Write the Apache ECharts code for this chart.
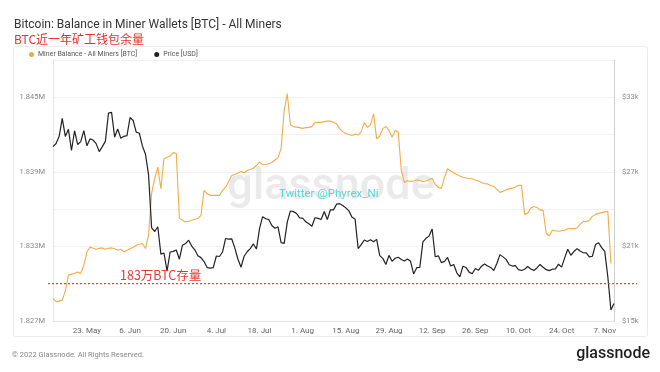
<!DOCTYPE html>
<html><head><meta charset="utf-8">
<script src="https://cdn.jsdelivr.net/npm/echarts@6/dist/echarts.min.js"></script>
<style>html,body{margin:0;padding:0;background:#fff}#c{width:660px;height:372px}</style>
</head><body><div id="c"></div>
<script>
// Daily categories 12 May 2022 .. 10 Nov 2022
const startDate = '2022-05-12';
const dayCount = 183;
const monthNames = ['Jan','Feb','Mar','Apr','May','Jun','Jul','Aug','Sep','Oct','Nov','Dec'];
const categories = [];
(function(){ const d0 = new Date(startDate + 'T00:00:00Z'); for (let i = 0; i < dayCount; i++) { const d = new Date(d0.getTime() + i * 86400000); categories.push(d.getUTCDate() + '. ' + monthNames[d.getUTCMonth()]); } })();

const xTickLabels = ['23. May','6. Jun','20. Jun','4. Jul','18. Jul','1. Aug','15. Aug','29. Aug','12. Sep','26. Sep','10. Oct','24. Oct','7. Nov'];

// Miner Balance - All Miners [BTC]
const minerBalance = [1828820,1828550,1828600,1828680,1829410,1830690,1830770,1830850,1830950,1830830,
 1831490,1832530,1832960,1832850,1832770,1832850,1832880,1832770,1832850,1832880,
 1832810,1832690,1832770,1832560,1832690,1832810,1832930,1833100,1833180,1833230,
 1832830,1833900,1837270,1838470,1839380,1837640,1840050,1840180,1840270,1840550,
 1840470,1835260,1835100,1834960,1835020,1835100,1835180,1835240,1835500,1837510,
 1837240,1837110,1837110,1837110,1837110,1837510,1837770,1838230,1838710,1838790,
 1838910,1839030,1838930,1839110,1839190,1839290,1839510,1839780,1839570,1839590,
 1839650,1839750,1839950,1840150,1840870,1843920,1845290,1842800,1842640,1842600,
 1842560,1842500,1842560,1842580,1842640,1842960,1842980,1842980,1843040,1843080,
 1843080,1843000,1842860,1842480,1842240,1842080,1842000,1841920,1842040,1841960,
 1842240,1842960,1842580,1842780,1843680,1841650,1841880,1842480,1842660,1842320,
 1841780,1842320,1842200,1839110,1838150,1838310,1838230,1838270,1838350,1838310,
 1838230,1838270,1838360,1838490,1837990,1837750,1837670,1838550,1839250,1839070,
 1838930,1838790,1838670,1838570,1838510,1838470,1838440,1838350,1838270,1838150,
 1838040,1838030,1837910,1837830,1837590,1837350,1837430,1837550,1837630,1837690,
 1837790,1837910,1837910,1835580,1835660,1836090,1836220,1836140,1835940,1835900,
 1834060,1833840,1834300,1834260,1834220,1834260,1834300,1834420,1834430,1834430,
 1834480,1834780,1835020,1834980,1835100,1835420,1835580,1835660,1835720,1835780,
 1835820,1831630,null];

// Price [USD]
const priceMay = [29030,29280,29860,31300,29850,30420,28720,30310,29200,29430,30320,29100,29650,29560,29270,28630,29030,29470,31730,31790];
const priceJun = [29800,30450,29700,29860,29910,31370,31130,30200,30110,29090,28420,26760,22490,22200,22580,20380,20470,19020,20550,20600,20710,19970,21100,21230,21500,21030,20730,20250,20100,19780];
const priceJul = [19300,19250,19300,20230,20190,20550,21640,21590,21600,20860,19970,19330,20210,20570,20830,21200,20790,22430,23390,23230,23160,22680,22460,22580,21310,21250,22950,23850,23800,23650,23300];
const priceAug = [23270,22980,22820,22620,23310,23260,23170,23810,23160,23950,23940,24400,24440,24300,24100,23860,23340,23200,20830,21140,21520,21400,21530,21370,21570,20260,20040,19550,20280,19800,20050];
const priceSep = [20130,19950,19830,19990,19800,18790,19290,19320,21360,21650,21830,22400,20170,20240,19700,19800,20110,19420,19540,18880,18550,19410,19300,18930,18800,19220,19080,19410,19590,19430];
const priceOct = [19310,19060,19630,20340,20160,19960,19530,19420,19450,19130,19060,19160,19380,19180,19070,19270,19550,19330,19130,19050,19170,19200,19570,19330,20080,20770,20290,20590,20820,20630,20490];
const priceNov = [20480,20160,20210,21150,21300,20900,20600,18540,15880,16400];
const price = [].concat(priceMay, priceJun, priceJul, priceAug, priceSep, priceOct, priceNov);

const refLevel = 1830000; // 183万 BTC

const chart = echarts.init(document.getElementById('c'), null, {renderer: 'canvas'});
const baseFont = 'Roboto, "Noto Sans", sans-serif';
chart.setOption({
  animation: false,
  backgroundColor: '#ffffff',
  textStyle: {fontFamily: baseFont},
  title: {
    text: 'Bitcoin: Balance in Miner Wallets [BTC] - All Miners',
    subtext: 'BTC近一年矿工钱包余量',
    left: 9, top: 14, itemGap: 2,
    textStyle: {fontSize: 12, fontWeight: 'normal', color: '#333', fontFamily: baseFont},
    subtextStyle: {fontSize: 12, color: '#e5312d', fontFamily: '"Noto Sans CJK SC", sans-serif'}
  },
  legend: {
    left: 24, top: 46, itemWidth: 5, itemHeight: 5, itemGap: 17, icon: 'circle',
    textStyle: {fontSize: 7, color: '#555', padding: [0,0,0,-1]},
    data: ['Miner Balance - All Miners [BTC]', 'Price [USD]']
  },
  grid: {left: 53, right: 46, top: 60, bottom: 51, containLabel: false},
  xAxis: {
    type: 'category', data: categories, boundaryGap: false,
    axisLine: {show: true, lineStyle: {color: '#e3e3e3'}},
    axisTick: {show: false},
    axisLabel: {fontSize: 8, color: '#666', margin: 6,
      interval: function(idx, val){ return xTickLabels.indexOf(val) >= 0; }},
    splitLine: {show: false}
  },
  yAxis: [{
    type: 'value', min: 1827000, max: 1848000, interval: 3000, position: 'left',
    axisLine: {show: true, lineStyle: {color: '#f6e2c8'}},
    axisTick: {show: false},
    axisLabel: {fontSize: 7.5, color: '#888', margin: 8, padding: [0,0,6,0],
      formatter: function(v){ return ((v - 1827000) % 6000 === 0) ? (v/1e6).toFixed(3) + 'M' : ''; }},
    splitLine: {lineStyle: {color: '#f1f1f1'}}
  }, {
    type: 'value', min: 15000, max: 36000, interval: 3000, position: 'right',
    axisLine: {show: true, lineStyle: {color: '#d0d0d0'}},
    axisTick: {show: false},
    axisLabel: {fontSize: 7.5, color: '#888', margin: 8, padding: [0,0,6,0],
      formatter: function(v){ return ((v - 15000) % 6000 === 0) ? '$' + (v/1000) + 'k' : ''; }},
    splitLine: {show: false}
  }],
  series: [{
    name: 'Miner Balance - All Miners [BTC]', type: 'line', yAxisIndex: 0,
    data: minerBalance, showSymbol: false, symbol: 'circle',
    itemStyle: {color: '#f0a93e'},
    lineStyle: {color: '#f3ab48', width: 1.1}
  }, {
    name: 'Price [USD]', type: 'line', yAxisIndex: 1,
    data: price, showSymbol: false, symbol: 'circle',
    itemStyle: {color: '#222'},
    lineStyle: {color: '#222', width: 1.2}
  }]
});

const refY = chart.convertToPixel({yAxisIndex: 0}, refLevel);
chart.setOption({
  graphic: [
    {type: 'rect', z: -10, silent: true, shape: {x: 13.5, y: 46.5, width: 634, height: 290, r: 2},
      style: {fill: 'none', stroke: '#ececec', lineWidth: 1}},
    {type: 'text', z: 1, silent: true, x: 331, y: 188,
      style: {text: 'glassnode', fontSize: 45, fontWeight: 500, fontFamily: baseFont, fill: 'rgba(200,200,200,0.38)', align: 'center', verticalAlign: 'middle'}},
    {type: 'text', z: 100, silent: true, x: 279, y: 194,
      style: {text: 'Twitter @Phyrex_Ni', fontSize: 11.5, fontFamily: baseFont, fill: '#4fd8d2', verticalAlign: 'middle'}},
    {type: 'line', z: 100, silent: true, shape: {x1: 48, y1: refY, x2: 637, y2: refY},
      style: {stroke: '#e0474c', lineWidth: 1.2, lineDash: [2, 2]}},
    {type: 'text', z: 100, silent: true, x: 120, y: refY - 8,
      style: {text: '183万BTC存量', fontSize: 12.5, fontFamily: '"Noto Sans CJK SC", sans-serif', fill: '#e53935', verticalAlign: 'middle'}},
    {type: 'text', z: 100, silent: true, x: 12, y: 355,
      style: {text: '© 2022 Glassnode. All Rights Reserved.', fontSize: 7.5, fontFamily: baseFont, fill: '#888', verticalAlign: 'middle'}},
    {type: 'text', z: 100, silent: true, x: 650, y: 354,
      style: {text: 'glassnode', fontSize: 16, fontWeight: 500, fontFamily: baseFont, fill: '#1e1e1e', align: 'right', verticalAlign: 'middle'}}
  ]
});
</script></body></html>
